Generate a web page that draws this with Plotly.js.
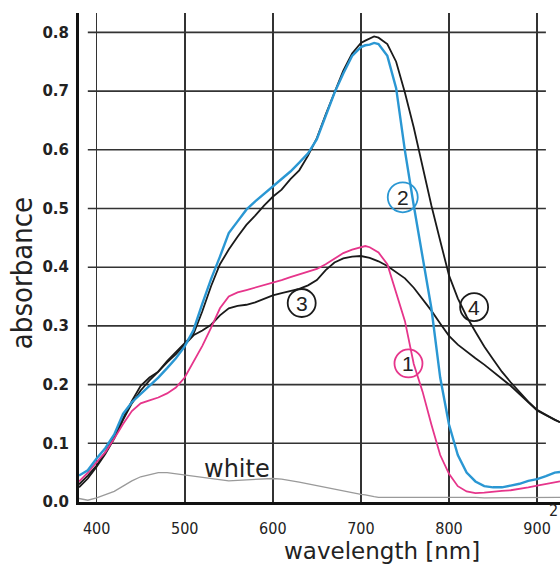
<!DOCTYPE html>
<html>
<head>
<meta charset="utf-8">
<script src="https://cdn.plot.ly/plotly-3.0.1.min.js"></script>
<style>
html,body{margin:0;padding:0;background:#fff;}
#chart{width:560px;height:566px;}
</style>
</head>
<body>
<div id="chart"></div>
<script>
// ---- data ----
const wavelength = [380,390,400,410,420,430,440,450,460,470,480,490,500,510,520,530,540,550,560,570,580,590,600,610,620,630,640,650,660,670,680,690,700,705,710,715,720,730,740,750,760,770,780,790,800,810,820,830,840,850,860,870,880,890,900,910,920,926];

const curve1 = [0.035,0.050,0.068,0.085,0.108,0.133,0.155,0.168,0.173,0.178,0.185,0.195,0.212,0.240,0.266,0.297,0.330,0.350,0.357,0.361,0.365,0.369,0.374,0.378,0.383,0.388,0.392,0.397,0.405,0.415,0.424,0.430,0.434,0.436,0.434,0.430,0.425,0.405,0.355,0.308,0.235,0.188,0.132,0.080,0.048,0.027,0.018,0.015,0.016,0.018,0.019,0.020,0.022,0.025,0.028,0.031,0.034,0.035];

const curve2 = [0.045,0.054,0.074,0.092,0.115,0.150,0.170,0.184,0.198,0.212,0.228,0.245,0.265,0.293,0.338,0.380,0.418,0.458,0.478,0.498,0.512,0.525,0.538,0.550,0.563,0.578,0.594,0.618,0.658,0.697,0.730,0.760,0.775,0.778,0.779,0.782,0.780,0.760,0.705,0.598,0.505,0.415,0.330,0.212,0.132,0.080,0.050,0.035,0.027,0.025,0.025,0.028,0.031,0.036,0.039,0.044,0.050,0.051];

const curve3 = [0.030,0.045,0.062,0.085,0.112,0.142,0.172,0.198,0.212,0.222,0.238,0.252,0.268,0.284,0.292,0.302,0.318,0.330,0.334,0.336,0.340,0.346,0.352,0.356,0.360,0.363,0.369,0.378,0.395,0.408,0.415,0.418,0.419,0.418,0.416,0.413,0.410,0.402,0.392,0.381,0.365,0.346,0.326,0.304,0.283,0.268,0.256,0.245,0.234,0.222,0.209,0.198,0.184,0.170,0.156,0.148,0.141,0.136];

const curve4 = [0.025,0.040,0.060,0.082,0.108,0.140,0.168,0.190,0.207,0.222,0.240,0.255,0.270,0.286,0.325,0.368,0.405,0.430,0.452,0.472,0.488,0.505,0.520,0.532,0.550,0.565,0.590,0.620,0.660,0.698,0.735,0.764,0.782,0.786,0.789,0.793,0.791,0.780,0.750,0.697,0.638,0.570,0.505,0.445,0.386,0.347,0.316,0.290,0.265,0.243,0.222,0.204,0.187,0.171,0.157,0.148,0.140,0.136];

const white = [0.006,0.003,0.007,0.012,0.018,0.027,0.036,0.043,0.047,0.050,0.050,0.048,0.046,0.044,0.041,0.039,0.037,0.036,0.037,0.038,0.039,0.040,0.040,0.039,0.037,0.034,0.031,0.028,0.025,0.021,0.018,0.015,0.013,0.012,0.010,0.009,0.008,0.008,0.008,0.009,0.008,0.008,0.009,0.008,0.008,0.008,0.008,0.008,0.007,0.007,0.008,0.007,0.007,0.007,0.007,0.008,0.008,0.008];

const xTicks = [400,500,600,700,800,900];
const xTickLabels = ['400','500','600','700','800','900'];
const yTicks = [0.0,0.1,0.2,0.3,0.4,0.5,0.6,0.7,0.8];
const yTickLabels = ['0.0','0.1','0.2','0.3','0.4','0.5','0.6','0.7','0.8'];

// circled curve labels: text, wavelength, absorbance
const labelText = ['1','2','3','4'];
const labelX = [754, 747.5, 632.8, 828.5];
const labelY = [0.236, 0.519, 0.339, 0.332];

// ---- styles ----
const PINK = '#e6358b';
const BLUE = '#2a97d3';
const BLACK = '#1a1a1a';
const GRAY = '#9a9a9a';
const labelColor = [PINK, BLUE, BLACK, BLACK];
const labelR = [14, 15, 14, 14];

const traces = [
  {x: wavelength, y: white, mode:'lines', line:{color:GRAY, width:1.3}, name:'white'},
  {x: wavelength, y: curve3, mode:'lines', line:{color:BLACK, width:1.8}, name:'3'},
  {x: wavelength, y: curve4, mode:'lines', line:{color:BLACK, width:1.8}, name:'4'},
  {x: wavelength, y: curve1, mode:'lines', line:{color:PINK, width:1.8}, name:'1'},
  {x: wavelength, y: curve2, mode:'lines', line:{color:BLUE, width:2.4}, name:'2'}
];

const shapes = [];
// horizontal grid lines (do not start at the y axis)
yTicks.forEach(v => {
  if (v === 0) return;
  shapes.push({type:'line', xref:'x', yref:'y', x0:390, x1:910, y0:v, y1:v,
    line:{color:'#333', width:1.6}, layer:'below'});
});
// circles around curve numbers
labelText.forEach((t,i) => {
  shapes.push({type:'circle', xref:'x', yref:'y', xsizemode:'pixel', ysizemode:'pixel',
    xanchor:labelX[i], yanchor:labelY[i], x0:-labelR[i], x1:labelR[i], y0:-labelR[i], y1:labelR[i],
    line:{color:labelColor[i], width:1.8}, fillcolor:'rgba(255,255,255,0)'});
});

const annotations = labelText.map((t,i) => ({
  x: labelX[i], y: labelY[i], xref:'x', yref:'y', text:t, showarrow:false,
  font:{family:'Liberation Sans, Arial, sans-serif', size:21, color:'#222'},
  xanchor:'center', yanchor:'middle'
}));
annotations.push({x:559.3, y:0.056, xref:'x', yref:'y', text:'white', showarrow:false,
  font:{family:'DejaVu Sans, sans-serif', size:24, color:'#222'}, xanchor:'center', yanchor:'middle'});
annotations.push({x:0.629, y:-0.1, xref:'paper', yref:'paper', text:'wavelength [nm]', showarrow:false,
  font:{family:'DejaVu Sans, sans-serif', size:23, color:'#222'}, xanchor:'center', yanchor:'middle'});
annotations.push({x:-0.1185, y:0.468, xref:'paper', yref:'paper', text:'absorbance', showarrow:false, textangle:-90,
  font:{family:'Liberation Sans Narrow, DejaVu Sans Condensed, Liberation Sans, sans-serif', size:29, color:'#222'},
  xanchor:'center', yanchor:'middle'});
annotations.push({x:1.0, y:-0.018, xref:'paper', yref:'paper', text:'2', showarrow:false,
  font:{family:'Liberation Sans Narrow, DejaVu Sans Condensed, Liberation Sans, sans-serif', size:16, color:'#222'},
  xanchor:'right', yanchor:'middle'});

const layout = {
  width:560, height:566,
  margin:{l:79, r:0, t:13, b:64},
  paper_bgcolor:'#fff', plot_bgcolor:'#fff',
  showlegend:false,
  xaxis:{
    range:[380, 926], tickmode:'array', tickvals:xTicks, ticktext:xTickLabels,
    showgrid:true, gridcolor:'#333', gridwidth:1.6, zeroline:false,
    showline:true, linecolor:'#111', linewidth:3, ticks:'',
    ticklabelstandoff:10,
    tickfont:{family:'Liberation Sans Narrow, DejaVu Sans Condensed, Liberation Sans, sans-serif', size:16, color:'#222'}
  },
  yaxis:{
    range:[0, 0.833], tickmode:'array', tickvals:yTicks, ticktext:yTickLabels,
    showgrid:false, zeroline:false,
    showline:true, linecolor:'#111', linewidth:3, ticks:'',
    ticklabelstandoff:4,
    tickfont:{family:'DejaVu Sans, sans-serif', size:15, color:'#222', weight:'bold'}
  },
  shapes:shapes,
  annotations:annotations
};

Plotly.newPlot('chart', traces, layout, {displayModeBar:false, staticPlot:true});
</script>
</body>
</html>
